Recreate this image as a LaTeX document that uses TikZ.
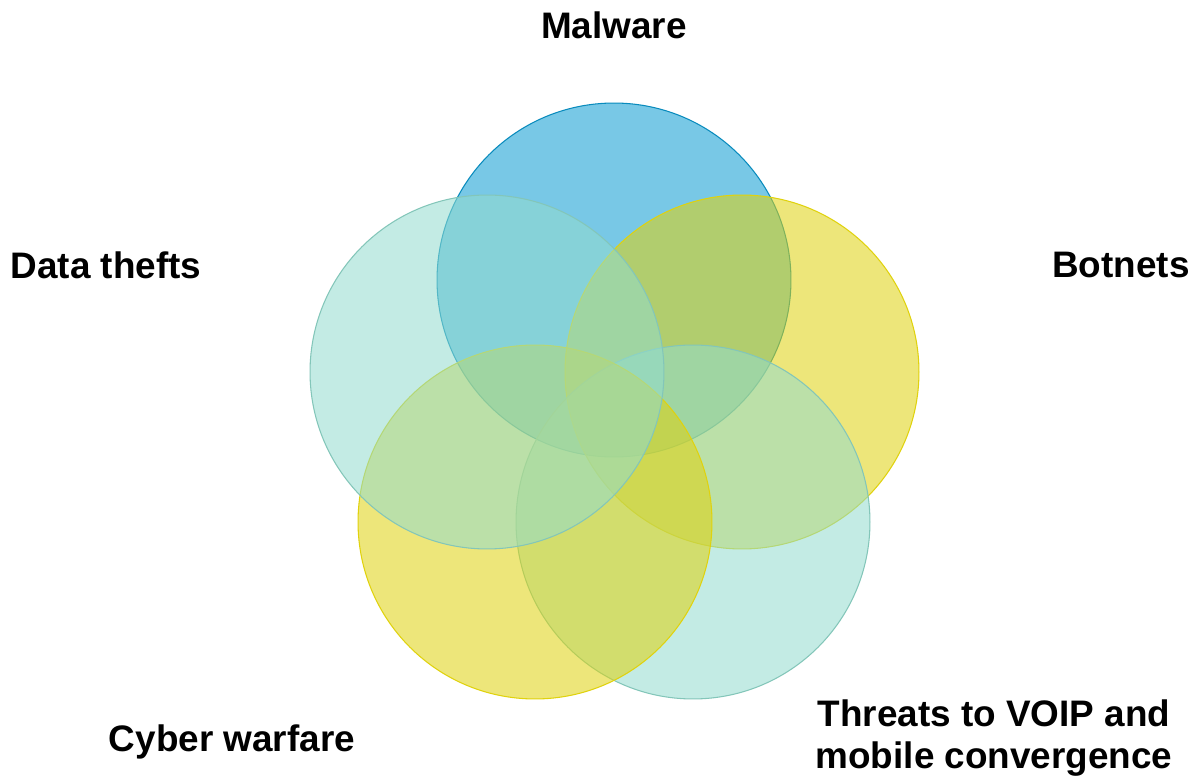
\documentclass[tikz,border=0pt]{standalone}
\usepackage{fontspec}
\setmainfont{Liberation Sans}
\definecolor{blueset}{RGB}{10,155,210}
\definecolor{tealset}{RGB}{146,220,206}
\definecolor{yellowset}{RGB}{224,210,13}
\tikzset{
    set/.style={circle, minimum size=7.08cm, inner sep=0pt, fill opacity=0.55, line width=0.6pt},
    label/.style={font=\fontsize{21}{24}\selectfont\bfseries, align=center}
}
\begin{document}
\begin{tikzpicture}[x=0.02cm, y=-0.02cm]
        \useasboundingbox[fill=white] (0, 0) rectangle (1194, 783);
        \node[set, fill=blueset, draw=blueset!90!black] (malware) at (614, 280) {};
        \node[set, fill=yellowset, draw=yellowset] (botnets) at (742, 372) {};
        \node[set, fill=tealset, draw=tealset!90!black] (threats) at (693, 522) {};
        \node[set, fill=yellowset, draw=yellowset] (cyber) at (535, 522) {};
        \node[set, fill=tealset, draw=tealset!90!black] (data) at (487, 372) {};
        \node[label] (malwarelabel) at (614, 25) {Malware};
        \node[label] (botnetslabel) at (1121, 265) {Botnets};
        \node[label] (datalabel) at (106, 265) {Data thefts};
        \node[label] (cyberlabel) at (232, 742) {Cyber warfare};
        \node[label] (threatslabel) at (994, 738) {Threats to VOIP and\\mobile convergence};
    \end{tikzpicture}
\end{document}
